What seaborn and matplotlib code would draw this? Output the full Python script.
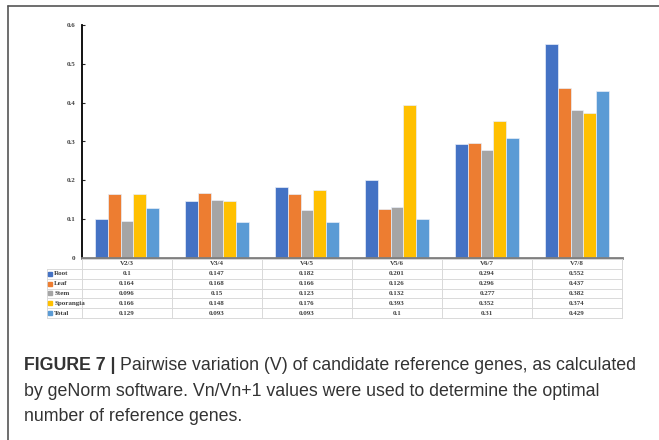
import numpy as np
import pandas as pd
import matplotlib
matplotlib.use("Agg")
import matplotlib.pyplot as plt
from matplotlib.lines import Line2D
import seaborn as sns

categories = ["V2/3", "V3/4", "V4/5", "V5/6", "V6/7", "V7/8"]
genes = ["Root", "Leaf", "Stem", "Sporangia", "Total"]
root = [0.1, 0.147, 0.182, 0.201, 0.294, 0.552]
leaf = [0.164, 0.168, 0.166, 0.126, 0.296, 0.437]
stem = [0.096, 0.15, 0.123, 0.132, 0.277, 0.382]
sporangia = [0.166, 0.148, 0.176, 0.393, 0.352, 0.374]
total = [0.129, 0.093, 0.093, 0.1, 0.31, 0.429]
yticks = [0, 0.1, 0.2, 0.3, 0.4, 0.5, 0.6]

colors = ["#4472C4", "#ED7D31", "#A5A5A5", "#FFC000", "#5B9BD5"]
series = [root, leaf, stem, sporangia, total]

rows = []
for g, vals in zip(genes, series):
    for c, v in zip(categories, vals):
        rows.append({"pair": c, "gene": g, "value": v})
df = pd.DataFrame(rows)

sns.set_style("white")
plt.rcParams["font.family"] = ["Liberation Serif", "DejaVu Serif"]

W, H = 659, 440
fig = plt.figure(figsize=(W / 100, H / 100), dpi=100)

# main bar axes
ax = fig.add_axes([82 / W, 1 - 258 / H, 540 / W, 233 / H])
sns.barplot(data=df, x="pair", y="value", hue="gene", hue_order=genes,
            palette=colors, saturation=1, width=0.72, edgecolor="#e8eef8",
            linewidth=0.5, legend=False, ax=ax)
ax.set_xlim(-0.5, len(categories) - 0.5)
ax.set_ylim(0, 0.6)
ax.set_yticks(yticks)
ax.set_yticklabels([f"{t:g}" for t in yticks], fontsize=5, fontweight="bold", color="#404040")
ax.set_xticks([])
ax.set_xlabel("")
ax.set_ylabel("")
ax.tick_params(axis="y", direction="in", length=2, width=0.8, pad=5, left=True)
for s in ["top", "right"]:
    ax.spines[s].set_visible(False)
ax.spines["left"].set_color("black")
ax.spines["left"].set_linewidth(1.3)
ax.spines["bottom"].set_color("#7f7f7f")
ax.spines["bottom"].set_linewidth(2)
ax.set_facecolor("white")

# data table under the bars
tax = fig.add_axes([82 / W, 1 - 318 / H, 540 / W, 59 / H])
tax.set_xlim(-0.5, len(categories) - 0.5)
tax.set_ylim(len(genes) + 1, 0)
tax.axis("off")
grid_c = "#d9d9d9"
label_left = -0.5 - 35.5 / 90
for i in range(len(genes) + 2):
    x0 = label_left if i >= 1 else -0.5
    tax.plot([x0, len(categories) - 0.5], [i, i], color=grid_c, lw=0.7, clip_on=False)
for j in range(len(categories) + 1):
    tax.plot([j - 0.5, j - 0.5], [0, len(genes) + 1], color=grid_c, lw=0.7, clip_on=False)
tax.plot([label_left, label_left], [1, len(genes) + 1], color=grid_c, lw=0.7, clip_on=False)

txt = dict(fontsize=5, fontweight="bold", color="#404040", ha="center", va="center")
for j, c in enumerate(categories):
    tax.text(j, 0.5, c, **txt)
for i, (g, vals) in enumerate(zip(genes, series)):
    y = i + 1.5
    tax.plot([label_left + 0.04], [y], marker="s", ms=2.6, color=colors[i], clip_on=False)
    tax.text(label_left + 0.085, y, g, fontsize=5, fontweight="bold", color="#404040",
             ha="left", va="center")
    for j, v in enumerate(vals):
        tax.text(j, y, f"{v:g}", **txt)

# frame around the figure
fig.add_artist(Line2D([7.5 / W, 7.5 / W], [0, 1 - 6.5 / H], color="#555555", lw=1.2))
fig.add_artist(Line2D([7.5 / W, 1], [1 - 6.5 / H, 1 - 6.5 / H], color="#555555", lw=1.2))

# caption
cap = dict(fontsize=12.8, color="#333333", family=["Liberation Sans", "DejaVu Sans"], va="center")
t0 = fig.text(24 / W, 1 - 366 / H, "FIGURE 7 |", fontweight="bold", **cap)
fig.canvas.draw()
bb = t0.get_window_extent(fig.canvas.get_renderer())
fig.text((bb.x1 + 5) / W, 1 - 366 / H,
         "Pairwise variation (V) of candidate reference genes, as calculated", **cap)
fig.text(24 / W, 1 - 391 / H,
         "by geNorm software. Vn/Vn+1 values were used to determine the optimal", **cap)
fig.text(24 / W, 1 - 416 / H, "number of reference genes.", **cap)

fig.savefig("out.png", dpi=100, facecolor="white")
